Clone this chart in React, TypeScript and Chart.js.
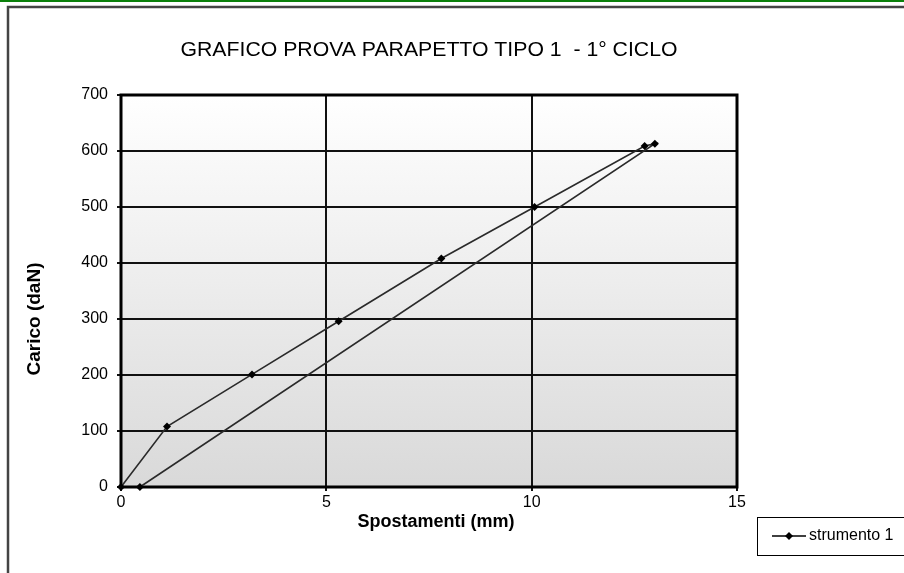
import React, { useEffect, useRef } from "react";
import { Chart, registerables } from "chart.js";

Chart.register(...registerables);

const chartTitle = "GRAFICO PROVA PARAPETTO TIPO 1  - 1° CICLO";
const xAxisTitle = "Spostamenti (mm)";
const yAxisTitle = "Carico (daN)";
const seriesName = "strumento 1";

// spostamenti (mm) and carico (daN) in recorded order (loading, then unloading)
const displacements = [0, 1.12, 3.19, 5.3, 7.8, 10.07, 12.75, 13.0, 0.46];
const loads = [0, 108, 201, 296, 408, 500, 609, 613, 0];

const xMin = 0;
const xMax = 15;
const xStep = 5;
const yMin = 0;
const yMax = 700;
const yStep = 100;

const FONT = "'Liberation Sans', Arial, sans-serif";

const decorPlugin = {
  id: "decor",
  beforeDraw(chart: any) {
    const { ctx, chartArea: a, width, height } = chart;
    ctx.save();
    ctx.fillStyle = "#ffffff";
    ctx.fillRect(0, 0, width, height);
    // green top rule
    ctx.fillStyle = "#0b800b";
    ctx.fillRect(0, 0, width, 2);
    // outer frame
    ctx.strokeStyle = "#444444";
    ctx.lineWidth = 2.5;
    ctx.beginPath();
    ctx.moveTo(8, height + 5);
    ctx.lineTo(8, 7);
    ctx.lineTo(width + 5, 7);
    ctx.stroke();
    // plot area gradient
    const g = ctx.createLinearGradient(0, a.top, 0, a.bottom);
    g.addColorStop(0, "#ffffff");
    g.addColorStop(1, "#d9d9d9");
    ctx.fillStyle = g;
    ctx.fillRect(a.left, a.top, a.right - a.left, a.bottom - a.top);
    ctx.restore();
  },
  beforeDatasetsDraw(chart: any) {
    const { ctx, chartArea: a } = chart;
    ctx.save();
    ctx.strokeStyle = "#000000";
    ctx.lineWidth = 3;
    ctx.strokeRect(a.left, a.top, a.right - a.left, a.bottom - a.top);
    ctx.restore();
  },
  afterDraw(chart: any) {
    const { ctx, chartArea: a } = chart;
    ctx.save();
    // chart title
    ctx.fillStyle = "#000000";
    ctx.font = `21px ${FONT}`;
    ctx.textAlign = "center";
    ctx.textBaseline = "middle";
    const tw = ctx.measureText(chartTitle).width;
    const target = 497;
    ctx.save();
    ctx.translate((a.left + a.right) / 2, 50);
    ctx.scale(target / tw, 1);
    ctx.fillText(chartTitle, 0, 0);
    ctx.restore();

    // y axis title
    ctx.save();
    ctx.font = `bold 19px ${FONT}`;
    ctx.translate(35, 319);
    ctx.rotate(-Math.PI / 2);
    ctx.textAlign = "center";
    ctx.textBaseline = "middle";
    ctx.fillText(yAxisTitle, 0, 0);
    ctx.restore();

    // x axis title
    ctx.save();
    ctx.font = `bold 18px ${FONT}`;
    ctx.textAlign = "center";
    ctx.textBaseline = "middle";
    ctx.fillText(xAxisTitle, 436, 522);
    ctx.restore();

    // legend
    ctx.strokeStyle = "#000000";
    ctx.lineWidth = 1;
    ctx.strokeRect(757.5, 517.5, 160, 38);
    const ly = 536;
    ctx.strokeStyle = "#000000";
    ctx.lineWidth = 1.5;
    ctx.beginPath();
    ctx.moveTo(772, ly);
    ctx.lineTo(806, ly);
    ctx.stroke();
    ctx.fillStyle = "#000000";
    ctx.beginPath();
    ctx.moveTo(789, ly - 4);
    ctx.lineTo(793, ly);
    ctx.lineTo(789, ly + 4);
    ctx.lineTo(785, ly);
    ctx.closePath();
    ctx.fill();
    ctx.font = `16px ${FONT}`;
    ctx.textAlign = "left";
    ctx.textBaseline = "middle";
    ctx.fillText(seriesName, 809, ly);
    ctx.restore();
  },
};

export default function App() {
  const canvasRef = useRef<HTMLCanvasElement | null>(null);

  useEffect(() => {
    const canvas = canvasRef.current;
    if (!canvas) return;
    const points = displacements.map((x, i) => ({ x, y: loads[i] }));
    const chart = new Chart(canvas, {
      type: "scatter",
      data: {
        datasets: [
          {
            label: seriesName,
            data: points,
            showLine: true,
            borderColor: "#2a2a2a",
            borderWidth: 1.6,
            pointStyle: "rectRot",
            pointRadius: 4,
            pointBackgroundColor: "#000000",
            pointBorderColor: "#000000",
            pointBorderWidth: 0,
            clip: false,
            tension: 0,
          } as any,
        ],
      },
      options: {
        responsive: false,
        animation: false,
        devicePixelRatio: 1,
        layout: { padding: { left: 20, right: 167, top: 95, bottom: 36 } },
        plugins: {
          legend: { display: false },
          tooltip: { enabled: false },
          title: { display: false },
        },
        scales: {
          x: {
            type: "linear",
            min: xMin,
            max: xMax,
            afterFit: (scale: any) => {
              scale.height = 50;
            },
            ticks: {
              stepSize: xStep,
              color: "#000000",
              font: { family: FONT, size: 16 },
              padding: 2,
              maxRotation: 0,
            },
            grid: {
              color: "#111111",
              lineWidth: 2,
              tickLength: 4,
              drawTicks: true,
            },
            border: { display: false },
          },
          y: {
            type: "linear",
            min: yMin,
            max: yMax,
            afterFit: (scale: any) => {
              scale.width = 101;
            },
            ticks: {
              stepSize: yStep,
              color: "#000000",
              font: { family: FONT, size: 16 },
              padding: 9,
            },
            grid: {
              color: "#111111",
              lineWidth: 2,
              tickLength: 4,
              drawTicks: true,
            },
            border: { display: false },
          },
        },
      },
      plugins: [decorPlugin],
    });
    return () => chart.destroy();
  }, []);

  return (
    <div
      style={{
        position: "fixed",
        left: 0,
        top: 0,
        width: 904,
        height: 573,
        background: "#ffffff",
      }}
    >
      <canvas ref={canvasRef} width={904} height={573} />
    </div>
  );
}
